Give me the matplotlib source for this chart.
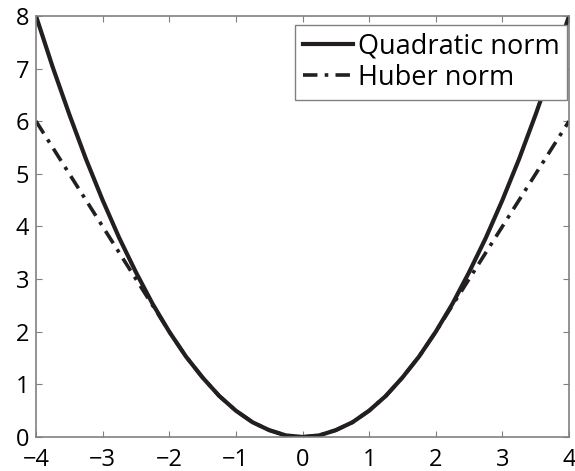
import matplotlib.pyplot as plt

# values, every 0.25 on x
x = [-4.0, -3.75, -3.5, -3.25, -3.0, -2.75, -2.5, -2.25, -2.0, -1.75, -1.5,
     -1.25, -1.0, -0.75, -0.5, -0.25, 0.0, 0.25, 0.5, 0.75, 1.0, 1.25, 1.5,
     1.75, 2.0, 2.25, 2.5, 2.75, 3.0, 3.25, 3.5, 3.75, 4.0]
quadratic = [8.0, 7.03, 6.13, 5.28, 4.5, 3.78, 3.13, 2.53, 2.0, 1.53, 1.13,
             0.78, 0.5, 0.28, 0.13, 0.03, 0.0, 0.03, 0.13, 0.28, 0.5, 0.78,
             1.13, 1.53, 2.0, 2.53, 3.13, 3.78, 4.5, 5.28, 6.13, 7.03, 8.0]
huber = [6.0, 5.5, 5.0, 4.5, 4.0, 3.5, 3.0, 2.5, 2.0, 1.53, 1.13,
         0.78, 0.5, 0.28, 0.13, 0.03, 0.0, 0.03, 0.13, 0.28, 0.5, 0.78,
         1.13, 1.53, 2.0, 2.5, 3.0, 3.5, 4.0, 4.5, 5.0, 5.5, 6.0]
xticks = [-4, -3, -2, -1, 0, 1, 2, 3, 4]
yticks = [0, 1, 2, 3, 4, 5, 6, 7, 8]

plt.rcParams['font.family'] = ['Open Sans', 'DejaVu Sans']

fig = plt.figure(figsize=(5.75, 4.71), dpi=100)
ax = fig.add_axes([0.0626, 0.0722, 0.927, 0.894])

ax.plot(x, huber, color='#231f20', lw=2.6, ls=(0, (4, 2, 1, 2)), label='Huber norm')
ax.plot(x, quadratic, color='#231f20', lw=3, label='Quadratic norm')

ax.set_xlim(-4, 4)
ax.set_ylim(0, 8)
ax.set_xticks(xticks)
ax.set_yticks(yticks)
ax.set_xticklabels([str(t).replace('-', '\u2212') for t in xticks])
ax.tick_params(direction='in', length=4, color='#808080', labelsize=17,
               top=True, right=True)
ax.tick_params(axis='x', pad=8)
ax.tick_params(axis='y', pad=5)
for s in ax.spines.values():
    s.set_color('#808080')
    s.set_linewidth(1.2)

h, l = ax.get_legend_handles_labels()
leg = ax.legend(h[::-1], l[::-1], loc='upper right', fontsize=19.5,
                bbox_to_anchor=(0.997, 0.979), borderaxespad=0,
                fancybox=False, framealpha=1, edgecolor='#808080',
                handlelength=1.85, handletextpad=0.15, borderpad=0.3,
                labelspacing=0.1)
leg.get_frame().set_linewidth(1.0)

fig.savefig('out.png', dpi=100)
